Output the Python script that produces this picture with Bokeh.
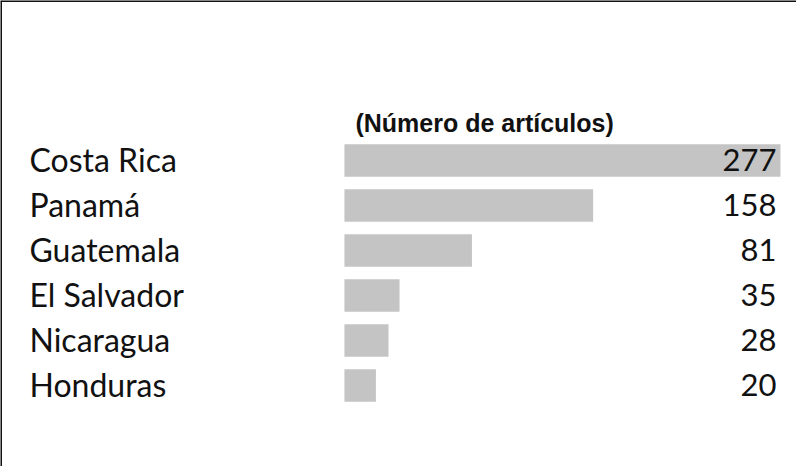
from bokeh.plotting import figure
from bokeh.models import ColumnDataSource, Range1d, Span, Label
from bokeh.core.properties import value
from bokeh.embed import file_html
from bokeh.resources import INLINE

countries = ["Costa Rica", "Panamá", "Guatemala", "El Salvador", "Nicaragua", "Honduras"]
articles = [277, 158, 81, 35, 28, 20]
value_labels = [str(v) for v in articles]
title_text = "(Número de artículos)"

n = len(countries)
ypos = [n - i for i in range(n)]

src = ColumnDataSource(dict(country=countries, articles=articles, label=value_labels, y=ypos))

W, H = 796, 466
p = figure(width=W, height=H, output_backend="svg", toolbar_location=None,
           x_range=Range1d(-218.5, 287.2), y_range=Range1d(-0.8, 9.556),
           x_axis_location=None, y_axis_location=None, min_border=0)
p.min_border_left = p.min_border_right = p.min_border_top = p.min_border_bottom = 0
p.grid.visible = False
p.outline_line_color = None
p.background_fill_color = "white"
p.border_fill_color = "white"

p.hbar(y="y", left=0, right="articles", height=0.72, source=src,
       fill_color="#C4C4C4", line_color=None)

font = value("Lato")
p.text(x=p.x_range.start, y="y", text="country", source=src, x_offset=29, y_offset=-1,
       text_font=font, text_font_size="32px", text_color="#111111",
       text_baseline="alphabetic", text_align="left")
p.text(x=p.x_range.end, y="y", text="label", source=src, x_offset=-20, y_offset=-1,
       text_font=font, text_font_size="31px", text_color="#111111",
       text_baseline="alphabetic", text_align="right")

p.add_layout(Label(x=0, y=6.84, x_offset=11, text=title_text,
                   text_font="Liberation Sans", text_font_style="bold",
                   text_font_size="25px", text_color="#111111",
                   text_baseline="alphabetic", text_align="left"))

p.add_layout(Span(location=p.y_range.end, dimension="width", line_color="#111111", line_width=3))
p.add_layout(Span(location=p.x_range.start, dimension="height", line_color="#111111", line_width=3))

open("out.html", "w").write(file_html(p, INLINE))
